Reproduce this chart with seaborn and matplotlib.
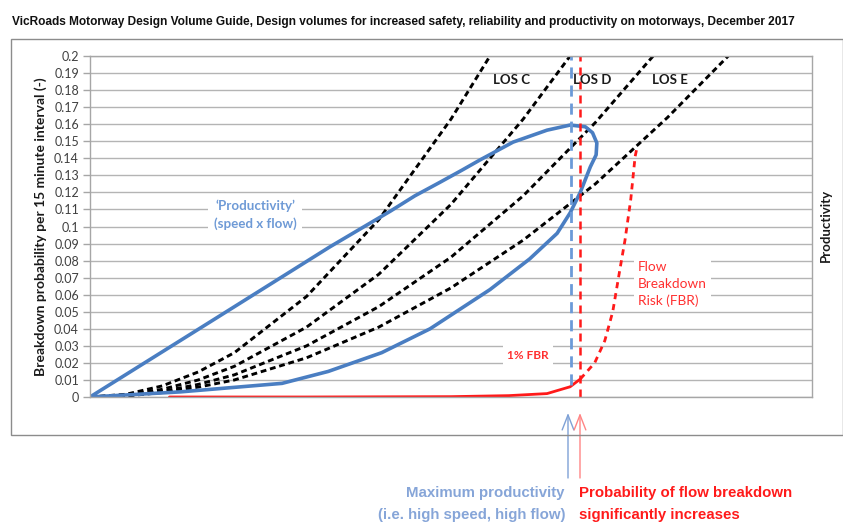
import matplotlib
matplotlib.use("Agg")
import matplotlib.pyplot as plt
import seaborn as sns

# ---------------- data ----------------
# Flow axis has no ticks: flow expressed on a 0-100 relative scale
los1_flow = [0, 5, 10, 15, 20, 30, 40, 50, 55.4]
los1_prob = [0, 0.0016, 0.0065, 0.0147, 0.026, 0.059, 0.104, 0.163, 0.2]
los2_flow = [0, 5, 10, 15, 20, 30, 40, 50, 60, 66.5]
los2_prob = [0, 0.0011, 0.0045, 0.010, 0.018, 0.041, 0.072, 0.113, 0.163, 0.2]
los3_flow = [0, 5, 10, 15, 20, 30, 40, 50, 60, 70, 78]
los3_prob = [0, 0.0008, 0.0033, 0.0074, 0.013, 0.030, 0.053, 0.082, 0.118, 0.161, 0.2]
los4_flow = [0, 5, 10, 15, 20, 30, 40, 50, 60, 70, 80, 88.4]
los4_prob = [0, 0.0006, 0.0026, 0.0058, 0.010, 0.023, 0.041, 0.064, 0.092, 0.125, 0.164, 0.2]

prod_flow = [0, 17.0, 33.2, 41.6, 45.0, 48.5, 51.5, 54.0, 58.6, 63.3, 66.5, 68.6, 69.6, 70.2,
             70.1, 69.3, 67.9, 66.5, 64.7, 60.9, 55.4, 47.1, 40.4, 33.0, 26.6, 12.5, 0]
prod_val = [0, 0.045, 0.088, 0.109, 0.118, 0.126, 0.133, 0.139, 0.1495, 0.1565, 0.1595, 0.1585,
            0.155, 0.149, 0.142, 0.135, 0.120, 0.108, 0.096, 0.081, 0.063, 0.040, 0.026,
            0.015, 0.008, 0.003, 0]

fbr_solid_flow = [11, 30, 50, 58, 63.3, 66.5, 67.9]
fbr_solid_prob = [0, 0, 0.0002, 0.0008, 0.002, 0.006, 0.0105]
fbr_dash_flow = [67.9, 69.9, 71.3, 72.4, 73.4, 74.1, 74.9, 75.5, 75.8]
fbr_dash_prob = [0.0105, 0.02, 0.033, 0.05, 0.075, 0.092, 0.116, 0.141, 0.147]

max_prod_flow = 66.6
fbr_increase_flow = 67.9

los_labels = ["LOS C", "LOS D", "LOS E"]
los_label_flow = [58.4, 69.5, 80.3]

yticks = [round(i * 0.01, 2) for i in range(21)]
ytick_labels = [f"{v:g}" for v in yticks]

title = ("VicRoads Motorway Design Volume Guide, Design volumes for increased safety, "
         "reliability and productivity on motorways, December 2017")

# ---------------- styling ----------------
sns.set_style("white")
plt.rcParams["font.family"] = ["Lato", "DejaVu Sans"]

W, H = 843, 525
fig = plt.figure(figsize=(W / 100, H / 100), dpi=100)
ax = fig.add_axes([90 / W, 1 - 397 / H, (812 - 90) / W, (397 - 56) / H])

# outer chart frame
frame = plt.Rectangle((11 / W, 1 - 435 / H), (843 - 11) / W, (435 - 39) / H,
                      transform=fig.transFigure, fill=False, ec="#8c8c8c", lw=1.0)
fig.patches.append(frame)

ax.set_xlim(0, 100)
ax.set_ylim(0, 0.2)
ax.set_yticks(yticks)
ax.set_yticklabels(ytick_labels, fontsize=9, color="#404040")
ax.set_xticks([])
ax.grid(axis="y", color="#b4b4b4", lw=1.0)
ax.set_axisbelow(True)
for s in ax.spines.values():
    s.set_color("#a6a6a6")
    s.set_linewidth(1.0)
ax.tick_params(axis="y", length=5, color="#a6a6a6", width=1, pad=3, left=True)

# LOS dashed lines
black_dash = (0, (2.0, 1.3))
for fx, py in [(los1_flow, los1_prob), (los2_flow, los2_prob),
               (los3_flow, los3_prob), (los4_flow, los4_prob)]:
    sns.lineplot(x=fx, y=py, ax=ax, color="black", lw=2.1, linestyle=black_dash,
                 sort=False, estimator=None)

# productivity loop
sns.lineplot(x=prod_flow, y=prod_val, ax=ax, color="#4a7ec2", lw=2.6, sort=False,
             estimator=None)

# flow breakdown risk
sns.lineplot(x=fbr_solid_flow, y=fbr_solid_prob, ax=ax, color="#ff1a1a", lw=2.0,
             sort=False, estimator=None)
sns.lineplot(x=fbr_dash_flow, y=fbr_dash_prob, ax=ax, color="#ff1a1a", lw=2.0,
             linestyle=(0, (2.2, 1.8)), sort=False, estimator=None)

# vertical markers
ax.plot([max_prod_flow, max_prod_flow], [0.007, 0.2], color="#6b9ad8", lw=2.0,
        linestyle=(0, (4, 2.5)))
ax.plot([fbr_increase_flow, fbr_increase_flow], [0, 0.2], color="#ff1a1a", lw=1.8,
        linestyle=(0, (3.2, 2.4)))

# in-plot labels
for lab, fx in zip(los_labels, los_label_flow):
    ax.text(fx, 0.186, lab, ha="center", va="center", fontsize=9.5, fontweight="bold",
            color="#1a1a1a")

ax.text(22.9, 0.1067, "\u2018Productivity\u2019\n(speed x flow)", ha="center", va="center",
        fontsize=9.6, fontweight="bold", color="#6e9ad6", linespacing=1.5,
        bbox=dict(fc="white", ec="none", pad=4))
ax.text(75.9, 0.0663, "Flow\nBreakdown\nRisk (FBR)", ha="left", va="center",
        fontsize=9.8, color="#ff3030", linespacing=1.45,
        bbox=dict(fc="white", ec="none", pad=3))
ax.text(60.7, 0.0246, "1% FBR", ha="center", va="center", fontsize=8.5,
        fontweight="bold", color="#ff3030", bbox=dict(fc="white", ec="none", pad=3))

ax.set_xlabel("Flow", fontsize=9, fontweight="bold", color="#333333", labelpad=5)
ax.set_ylabel("Breakdown probability per 15 minute interval (-)", fontsize=10,
              fontweight="bold", color="#1a1a1a", labelpad=5)

fig.text(826 / W, 1 - 225 / H, "Productivity", rotation=90, ha="center", va="center",
         fontsize=9.5, fontweight="bold", color="#1a1a1a")

ttl = fig.text(12 / W, 1 - 22 / H, title, ha="left", va="center", fontsize=9.5,
               fontweight="bold", family=["Liberation Sans"], color="#111111")

# arrows below chart
for xpx, col in [(568, "#7ea1d6"), (580, "#ff8585")]:
    ax.annotate("", xy=(xpx / W, 1 - 413 / H), xytext=(xpx / W, 1 - 478 / H),
                xycoords="figure fraction", textcoords="figure fraction",
                arrowprops=dict(arrowstyle="->,head_length=0.9,head_width=0.35",
                                color=col, lw=1.0, mutation_scale=12,
                                shrinkA=0, shrinkB=0))

bfs = 10.8
fig.text(565 / W, 1 - 493 / H, "Maximum productivity", ha="right", va="center",
         fontsize=bfs, fontweight="bold", color="#86a5d8", family=["Liberation Sans"])
fig.text(565 / W, 1 - 515 / H, "(i.e. high speed, high flow)", ha="right", va="center",
         fontsize=bfs, fontweight="bold", color="#86a5d8", family=["Liberation Sans"])
fig.text(579 / W, 1 - 493 / H, "Probability of flow breakdown", ha="left", va="center",
         fontsize=bfs, fontweight="bold", color="#ff1a1a", family=["Liberation Sans"])
fig.text(579 / W, 1 - 515 / H, "significantly increases", ha="left", va="center",
         fontsize=bfs, fontweight="bold", color="#ff1a1a", family=["Liberation Sans"])

# fit the title to the width it takes in the reference
fig.canvas.draw()
tw = ttl.get_window_extent(renderer=fig.canvas.get_renderer()).width
ttl.set_fontsize(9.5 * 785 / tw)

fig.savefig("out.png", dpi=100)
